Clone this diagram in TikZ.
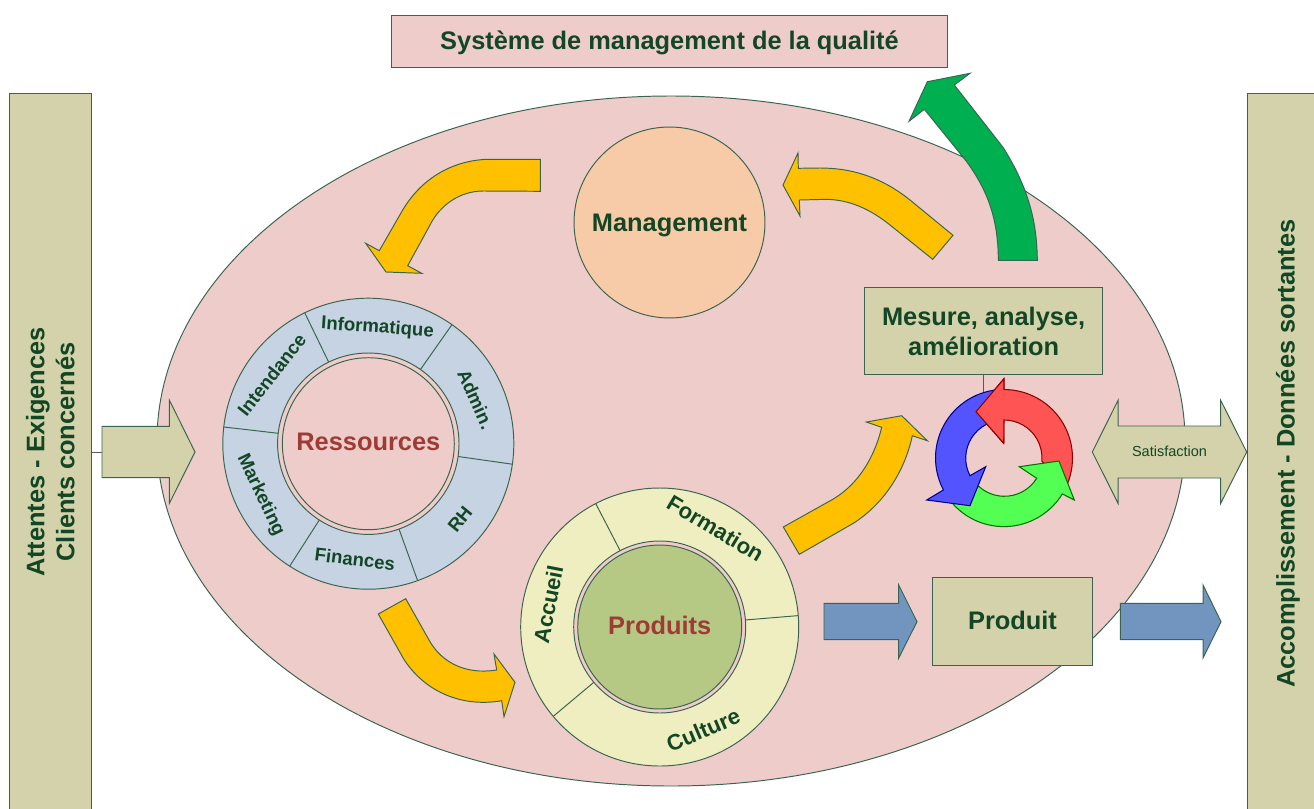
\documentclass[tikz,border=0pt]{standalone}
\usepackage{fontspec}
\setmainfont{Liberation Sans}
\usetikzlibrary{calc}
\definecolor{encre}{HTML}{134625}
\definecolor{trait}{HTML}{3A6450}
\definecolor{rose}{HTML}{EDCCCA}
\definecolor{kaki}{HTML}{D3D2AA}
\definecolor{peche}{HTML}{F8CBA8}
\definecolor{ciel}{HTML}{C5D3E3}
\definecolor{creme}{HTML}{EFEEC1}
\definecolor{olive}{HTML}{B5C985}
\definecolor{brique}{HTML}{A03A35}
\definecolor{jaune}{HTML}{FFC000}
\definecolor{vert}{HTML}{00B050}
\definecolor{bleu}{HTML}{7295BF}
\tikzset{
	contour/.style={draw=trait,line width=0.55pt},
	boite/.style={contour,fill=kaki,inner sep=0pt,align=center,text=encre,font=\bfseries\fontsize{14.45}{17}\selectfont},
	rond/.style={contour,circle,inner sep=0pt,align=center,font=\bfseries\fontsize{14.45}{17}\selectfont},
	secteur/.style={inner sep=0pt,text=encre,font=\bfseries\fontsize{10.6}{12}\selectfont},
	secteurlarge/.style={inner sep=0pt,text=encre,font=\bfseries\fontsize{12.6}{14}\selectfont}
}

\begin{document}
\begin{tikzpicture}[x=0.02cm,y=-0.02cm]
			%%%%% START %%%%%
			
			\useasboundingbox (0,0) rectangle (1314,808);
			\clip (0,0) rectangle (1314,808);
			
			\draw[contour,fill=rose] (671,441) ellipse [x radius=514,y radius=345];
			
			\node[boite,fill=rose,text height=10pt,text depth=0pt,minimum width=11.14cm,minimum height=1.04cm] (titre) at (669.5,41) {Système de management de la qualité};
			\node[boite,rotate=90,minimum width=14.36cm,minimum height=1.65cm] (attentes) at (50.25,452) {Attentes - Exigences\\Clients concernés};
			\node[boite,rotate=90,text height=10.8pt,text depth=0pt,minimum width=14.42cm,minimum height=1.52cm] (sortantes) at (1285,453.5) {Accomplissement - Données sortantes};
			
			\coordinate (entree) at (102,452);
			\draw[contour,draw=gray!70!black] (attentes.south) -- (entree);
			\draw[contour,fill=kaki] (entree) -- (102,426.3) -- (169.3,426.3) -- (169.3,400) -- (195,452) -- (169.3,503.5) -- (169.3,477.7) -- (102,477.7) -- cycle;
			
			\draw[contour,fill=jaune] (540.3,159.3) -- (486.7,159.3) .. controls (450,161) and (420,180) .. (401.7,211.7) -- (379.3,250.7) -- (365.7,243.3) -- (386,272) -- (421.7,273.3) -- (407.7,265.7) -- (430,225) .. controls (440,205) and (460,191) .. (483.3,191) -- (540.3,191.3) -- cycle;
			\draw[contour,fill=jaune] (953,235.3) -- (910,200) .. controls (880,176) and (850,168) .. (820,168) -- (798.3,168.3) -- (798,153) -- (783,185) -- (800,216) -- (799.3,200) -- (826.7,199.3) .. controls (850,200) and (870,209) .. (890,225) -- (932.7,259.3) -- cycle;
			\draw[contour,fill=jaune] (378.3,614) -- (405.7,598.7) -- (430,641.7) .. controls (442,662) and (465,675) .. (496.7,670) -- (494,654) -- (515,682.3) -- (504,716.7) -- (501.7,700.7) .. controls (460,708) and (423,690) .. (403.3,658.3) -- cycle;
			\draw[contour,fill=jaune] (783.3,527) -- (833.3,499) .. controls (860,483) and (875,455) .. (881.7,427.3) -- (866.3,422) -- (901.7,415.7) -- (927.3,440.7) -- (912.3,435.7) .. controls (905,470) and (885,503) .. (853.3,523.3) -- (799.3,554.3) -- cycle;
			\draw[contour,fill=vert] (1037.3,260.3) .. controls (1037,225) and (1030,190) .. (1003,147.3) -- (954.3,85) -- (970,73.3) -- (927.3,81.7) -- (909,121.3) -- (924.3,109.3) -- (966.7,161.7) .. controls (985,187) and (998.3,215) .. (998.3,260.3) -- cycle;
			
			\node[rond,fill=peche,text=encre,text height=10.8pt,text depth=0pt,minimum size=3.82cm] (management) at (669.5,222.5) {Management};
			
			\coordinate (centreres) at (368.3,443.7);
			\draw[contour,fill=ciel] (centreres) circle (145.5);
			\draw[contour,fill=rose] (centreres) circle (90.7);
			\node[rond,fill=rose,text=brique,text height=8.2pt,text depth=0pt,minimum size=3.44cm] (ressources) at (centreres) {Ressources};
			\draw[contour] ($(centreres)+(-115.9:145.5)$) -- ($(centreres)+(-115.9:90.7)$);
			\draw[contour] ($(centreres)+(-54.9:145.5)$) -- ($(centreres)+(-54.9:90.7)$);
			\draw[contour] ($(centreres)+(8.1:145.5)$) -- ($(centreres)+(8.1:90.7)$);
			\draw[contour] ($(centreres)+(70.2:145.5)$) -- ($(centreres)+(70.2:90.7)$);
			\draw[contour] ($(centreres)+(122.7:145.5)$) -- ($(centreres)+(122.7:90.7)$);
			\draw[contour] ($(centreres)+(186.6:145.5)$) -- ($(centreres)+(186.6:90.7)$);
			\node[secteur,rotate=-4] (informatique) at (377.5,328) {Informatique};
			\node[secteur,rotate=-66] (admin) at (475.7,399.3) {Admin.};
			\node[secteur,rotate=51] (rh) at (460,519) {RH};
			\node[secteur,rotate=-7] (finances) at (355,559) {Finances};
			\node[secteur,rotate=-64.5] (marketing) at (260.5,495) {Marketing};
			\node[secteur,rotate=52] (intendance) at (271.7,375) {Intendance};
			
			\coordinate (centrepro) at (659.7,627);
			\draw[contour,fill=creme] (centrepro) circle (139);
			\draw[contour,fill=rose] (centrepro) circle (86);
			\node[rond,fill=olive,text=brique,text height=8.2pt,text depth=0pt,minimum size=3.28cm] (produits) at (centrepro) {Produits};
			\draw[contour] ($(centrepro)+(242.6:139)$) -- ($(centrepro)+(242.6:86)$);
			\draw[contour] ($(centrepro)+(-4.7:139)$) -- ($(centrepro)+(-4.7:86)$);
			\draw[contour] ($(centrepro)+(140:139)$) -- ($(centrepro)+(140:86)$);
			\node[secteurlarge,rotate=-31] (formation) at (715.5,528.3) {Formation};
			\node[secteurlarge,rotate=23] (culture) at (703.3,730) {Culture};
			\node[secteurlarge,rotate=79] (accueil) at (548.3,604.3) {Accueil};
			
			\node[boite,minimum width=4.75cm,minimum height=1.75cm] (mesure) at (983.6,331) {Mesure, analyse,\\amélioration};
			\coordinate (cyclehaut) at (983.6,395);
			\draw[contour,draw=gray!70!black] (mesure.south) -- (cyclehaut);
			
			\def\flechered{(1067.5,483.7) arc[start angle=22,end angle=-90,radius=68.5] -- (1004,378.7) -- (976,411.7) -- (1003.7,443.3) -- (1004,420) arc[start angle=-90,end angle=5,radius=38] -- cycle}
			\draw[line width=0.6pt,draw=red!55!black,fill=red!67!white] \flechered;
			\draw[line width=0.6pt,draw=green!45!black,fill=green!67!white] (953.3,504.3) arc[start angle=137.6,end angle=31.5,radius=68.5] -- (1074.3,500) -- (1059,461) -- (1019.3,466.7) -- (1036.7,478.3) arc[start angle=31.8,end angle=132.5,radius=38] -- cycle;
			\draw[line width=0.6pt,draw=blue!55!black,fill=blue!67!white] (993.3,390.3) arc[start angle=261,end angle=152.2,radius=68.5] -- (926.7,500) -- (970,505.7) -- (985.7,466.7) -- (970,475.7) arc[start angle=152.5,end angle=242.8,radius=38] -- cycle;
			\begin{scope}
				\clip (960,372) rectangle (1004.3,450);
				\draw[line width=0.6pt,draw=red!55!black,fill=red!67!white] \flechered;
			\end{scope}
			
			\draw[contour,fill=kaki] (1092.3,452) -- (1118,400.3) -- (1118,426) -- (1220.7,426) -- (1220.7,400.3) -- (1246.7,452) -- (1220.7,503.3) -- (1220.7,478) -- (1118,478) -- (1118,503.3) -- cycle;
			\node[text=encre,font=\fontsize{8.25}{10}\selectfont,inner sep=0pt] (satisfaction) at (1169.5,451) {Satisfaction};
			
			\draw[contour,fill=bleu] (824,603.3) -- (898.7,603.3) -- (898.7,585) -- (917,621.7) -- (898.7,658) -- (898.7,639.7) -- (824,639.7) -- cycle;
			\node[boite,text height=9.2pt,text depth=0pt,minimum width=3.21cm,minimum height=1.75cm] (produit) at (1012.5,621.5) {Produit};
			\draw[contour,fill=bleu] (1120.3,603.3) -- (1203,603.3) -- (1203,585) -- (1221,621.7) -- (1203,658) -- (1203,639.7) -- (1120.3,639.7) -- cycle;
			
			%%%%% END %%%%%
		\end{tikzpicture}
\end{document}
